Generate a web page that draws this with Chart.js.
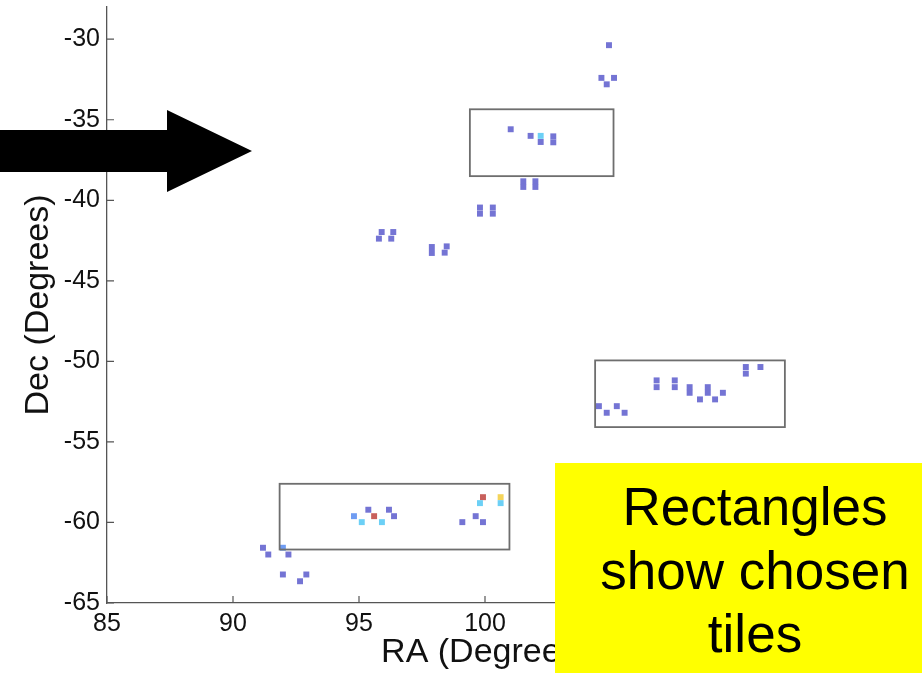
<!DOCTYPE html>
<html>
<head>
<meta charset="utf-8">
<script src="https://cdn.jsdelivr.net/npm/chart.js@4.4.1/dist/chart.umd.min.js"></script>
<style>
  html, body { margin: 0; padding: 0; background: #fff; }
  #wrap { width: 922px; height: 673px; }
</style>
</head>
<body>
<div id="wrap"><canvas id="tiles"></canvas></div>
<script>
// axis ticks
var raTicks = [85, 90, 95, 100, 105, 110, 115];
var decTicks = [-65, -60, -55, -50, -45, -40, -35, -30];

// sources, grouped by marker colour
var blueRa = [104.92, 104.62, 104.83, 105.12,
  101.02, 101.81, 102.21, 102.71, 102.71,
  101.52, 101.52, 102.0, 102.0,
  99.80, 99.80, 100.31, 100.31,
  95.90, 95.79, 96.36, 96.28,
  97.89, 97.89, 98.48, 98.40,
  104.52, 104.83, 105.23, 105.54, 106.81, 106.81, 107.53, 107.53,
  108.12, 108.12, 108.53, 108.84, 108.84, 109.13, 109.44,
  110.35, 110.35, 110.93,
  95.37, 96.19, 96.39, 99.10, 99.63, 99.92,
  91.19, 91.40, 92.20, 91.98, 92.91, 92.66];
var blueDec = [-30.37, -32.40, -32.80, -32.40,
  -35.59, -36.0, -36.38, -36.03, -36.40,
  -38.82, -39.17, -38.82, -39.17,
  -40.45, -40.83, -40.45, -40.83,
  -41.97, -42.38, -41.97, -42.38,
  -42.90, -43.27, -42.86, -43.25,
  -52.78, -53.19, -52.78, -53.19, -51.18, -51.60, -51.18, -51.60,
  -51.60, -51.95, -52.36, -51.60, -51.95, -52.36, -51.95,
  -50.35, -50.76, -50.35,
  -59.21, -59.21, -59.61, -59.98, -59.61, -59.98,
  -61.57, -61.99, -61.99, -63.23, -63.23, -63.65];
var lightRa = [94.80, 91.98];
var lightDec = [-59.61, -61.57];
var cyanRa = [102.21, 95.11, 95.91, 99.80, 100.62];
var cyanDec = [-36.0, -59.98, -59.98, -58.80, -58.80];
var redRa = [95.60, 99.92];
var redDec = [-59.61, -58.43];
var yellowRa = [100.62];
var yellowDec = [-58.43];

// chosen tiles
var tileRaMin = [99.4, 104.37, 91.85];
var tileRaMax = [105.1, 111.9, 100.97];
var tileDecTop = [-34.35, -49.94, -57.6];
var tileDecBottom = [-38.5, -54.08, -61.68];

var noteLines = ['Rectangles', 'show chosen', 'tiles'];

function pts(xs, ys) {
  return xs.map(function (x, i) { return {x: x, y: ys[i]}; });
}
function series(xs, ys, color) {
  return {
    data: pts(xs, ys),
    pointStyle: 'rect',
    pointRadius: 4.2,
    pointBorderWidth: 0,
    backgroundColor: color,
    borderColor: color,
    showLine: false
  };
}

var FONT = '"Liberation Sans", Arial, Helvetica, sans-serif';

var extras = {
  id: 'extras',
  afterDraw: function (chart) {
    var c = chart.ctx, xs = chart.scales.x, ys = chart.scales.y;
    c.save();
    // inward tick marks
    c.strokeStyle = '#555';
    c.lineWidth = 1.2;
    c.beginPath();
    raTicks.forEach(function (v) {
      var px = xs.getPixelForValue(v);
      c.moveTo(px, ys.bottom); c.lineTo(px, ys.bottom - 7);
    });
    decTicks.forEach(function (v) {
      var py = ys.getPixelForValue(v);
      c.moveTo(xs.left, py); c.lineTo(xs.left + 7, py);
    });
    c.stroke();

    // tile rectangles
    c.strokeStyle = '#6e6e6e';
    c.lineWidth = 1.8;
    tileRaMin.forEach(function (v, i) {
      var x1 = xs.getPixelForValue(v), x2 = xs.getPixelForValue(tileRaMax[i]);
      var y1 = ys.getPixelForValue(tileDecTop[i]), y2 = ys.getPixelForValue(tileDecBottom[i]);
      c.strokeRect(x1, y1, x2 - x1, y2 - y1);
    });

    // arrow
    c.fillStyle = '#000';
    c.beginPath();
    c.moveTo(0, 130); c.lineTo(167, 130); c.lineTo(167, 110);
    c.lineTo(252, 151); c.lineTo(167, 192); c.lineTo(167, 172);
    c.lineTo(0, 172); c.closePath();
    c.fill();

    // yellow note
    c.fillStyle = '#ffff00';
    c.fillRect(555, 463, 367, 210);
    c.fillStyle = '#000';
    c.font = '53px ' + FONT;
    c.textAlign = 'center';
    c.textBaseline = 'alphabetic';
    noteLines.forEach(function (t, i) {
      c.fillText(t, 755, 525 + i * 63.5);
    });
    c.restore();
  }
};

function noEdgePad(s) {
  s.paddingTop = 0; s.paddingBottom = 0;
  s.paddingLeft = 0; s.paddingRight = 0;
}

new Chart(document.getElementById('tiles'), {
  type: 'scatter',
  data: {
    datasets: [
      series(blueRa, blueDec, '#7474d4'),
      series(lightRa, lightDec, '#6f9cf2'),
      series(cyanRa, cyanDec, '#6cd0f6'),
      series(redRa, redDec, '#c8605c'),
      series(yellowRa, yellowDec, '#f4d45a')
    ]
  },
  options: {
    responsive: true,
    maintainAspectRatio: false,
    animation: false,
    layout: { padding: { top: 7, right: 59, left: 0, bottom: 0 } },
    plugins: {
      legend: { display: false },
      tooltip: { enabled: false }
    },
    scales: {
      x: {
        type: 'linear',
        min: 85,
        max: 115,
        afterBuildTicks: function (s) { s.ticks = raTicks.map(function (v) { return {value: v}; }); },
        afterFit: function (s) { s.height = 70; noEdgePad(s); },
        grid: { display: true, drawOnChartArea: false, drawTicks: false },
        border: { display: true, color: '#555', width: 1.3 },
        ticks: { color: '#111', padding: 6, font: { family: FONT, size: 25 } },
        title: {
          display: true, text: 'RA (Degrees)', color: '#111',
          font: { family: FONT, size: 34 }, padding: { top: 0, bottom: 0 }
        }
      },
      y: {
        type: 'linear',
        min: -65,
        max: -28,
        afterBuildTicks: function (s) { s.ticks = decTicks.map(function (v) { return {value: v}; }); },
        afterFit: function (s) { s.width = 107; noEdgePad(s); },
        grid: { display: true, drawOnChartArea: false, drawTicks: false },
        border: { display: true, color: '#555', width: 1.3 },
        ticks: { color: '#111', padding: 7, font: { family: FONT, size: 25 } },
        title: {
          display: true, text: 'Dec (Degrees)', color: '#111',
          font: { family: FONT, size: 34 }, padding: { top: 18, bottom: 0 }
        }
      }
    }
  },
  plugins: [extras]
});
</script>
</body>
</html>
